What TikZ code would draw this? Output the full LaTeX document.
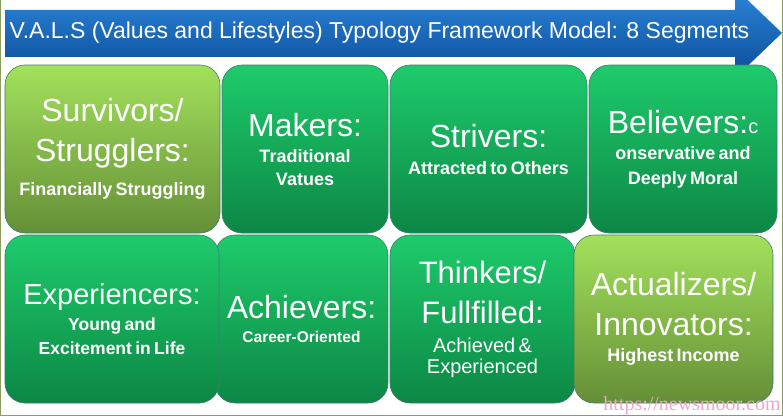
\documentclass[tikz,border=0pt]{standalone}
\usepackage{fontspec}
\setmainfont{Liberation Sans}
\newfontfamily\sitefont{Liberation Serif}
\usepackage{tikz}
\definecolor{arrowtop}{HTML}{2C86DA}
\definecolor{arrowbot}{HTML}{0B4C98}
\definecolor{greentop}{HTML}{1ECB6B}
\definecolor{greenbot}{HTML}{0C8745}
\definecolor{limetop}{HTML}{A2E15B}
\definecolor{limebot}{HTML}{658F37}
\definecolor{tileedge}{HTML}{3C7E70}
\definecolor{frameline}{HTML}{8C9C5E}
\definecolor{sitepink}{HTML}{F2A6CF}
\newcommand{\segbig}{\fontsize{32}{22}\selectfont\mdseries}
\newcommand{\segsmall}{\fontsize{18}{22}\selectfont\bfseries}
\newcommand{\segfree}{\lineskiplimit=-100pt\relax}

\begin{document}
\begin{tikzpicture}[x=1pt,y=1pt]
    \tikzstyle{tile}=[rounded corners=20pt, draw=tileedge, line width=0.6pt
    , top color=greentop, bottom color=greenbot
    , minimum height=168pt, inner sep=0pt, align=center, text=white
    , font=\segfree]
    \tikzstyle{lime}=[tile, top color=limetop, bottom color=limebot]
    \useasboundingbox (0,0) rectangle (783,416);
    \clip (0,0) rectangle (783,416);
    % Draw the arrow
    \shade[top color=arrowtop, bottom color=arrowbot] (5,406) -- (735,406) -- (735,428)
      -- (782,383) -- (735,338) -- (735,359) -- (5,359) -- cycle;
    \node[right, text=white, font=\fontsize{23}{26}\selectfont] (title) at (6,383)
      {V.A.L.S (Values and Lifestyles) Typology Framework Model: 8 Segments};
    % Draw the tiles, top row
    \node[lime, minimum width=215pt, text width=205pt] (surv) at (112.5,267)
      {\segbig Survivors/\\[18pt]Strugglers:\\[12pt]\segsmall Financially Struggling\par};
    \node[tile, minimum width=166pt, text width=156pt] (makers) at (305,267)
      {\segbig Makers:\\[4pt]\segsmall Traditional\\[1pt]Vatues\par};
    \node[tile, minimum width=197pt, text width=187pt] (strivers) at (488.5,267)
      {\segbig Strivers:\\[5pt]\segsmall Attracted to Others\par};
    \node[tile, minimum width=188pt, text width=178pt] (believers) at (683,267)
      {\segbig Believers:{\fontsize{20}{22}\selectfont c}\\[4pt]\segsmall onservative and\\[3pt]Deeply Moral\par};
    % Draw the tiles, bottom row
    \node[tile, minimum width=173pt, text width=163pt] (achievers) at (301.5,97)
      {\segbig Achievers:\\[4pt]\fontsize{15.5}{20}\selectfont\bfseries Career-Oriented\par};
    \node[tile, minimum width=214pt, text width=204pt] (exper) at (112,97)
      {\fontsize{29}{24}\selectfont Experiencers:\\[1.5pt]\fontsize{17.5}{24}\selectfont\bfseries Young and\\Excitement in Life\par};
    \node[tile, minimum width=185pt, text width=175pt] (thinkers) at (482.5,97)
      {\fontsize{31}{21}\selectfont Thinkers/\\[19pt]Fullfilled:\\[8pt]\fontsize{20}{21}\selectfont Achieved \&\\Experienced\par};
    \node[lime, minimum width=199pt, text width=189pt] (actual) at (673.5,97)
      {\segbig Actualizers/\\[18pt]Innovators:\\[4pt]\segsmall Highest Income\par};
    % Frame and site mark
    \draw[frameline, line width=1pt] (0.5,416) -- (0.5,0.5) -- (782.5,0.5) -- (782.5,416);
    \node[text=sitepink, font=\sitefont\fontsize{20}{22}\selectfont] (site) at (692,10)
      {https://newsmoor.com};
\end{tikzpicture}
\end{document}
